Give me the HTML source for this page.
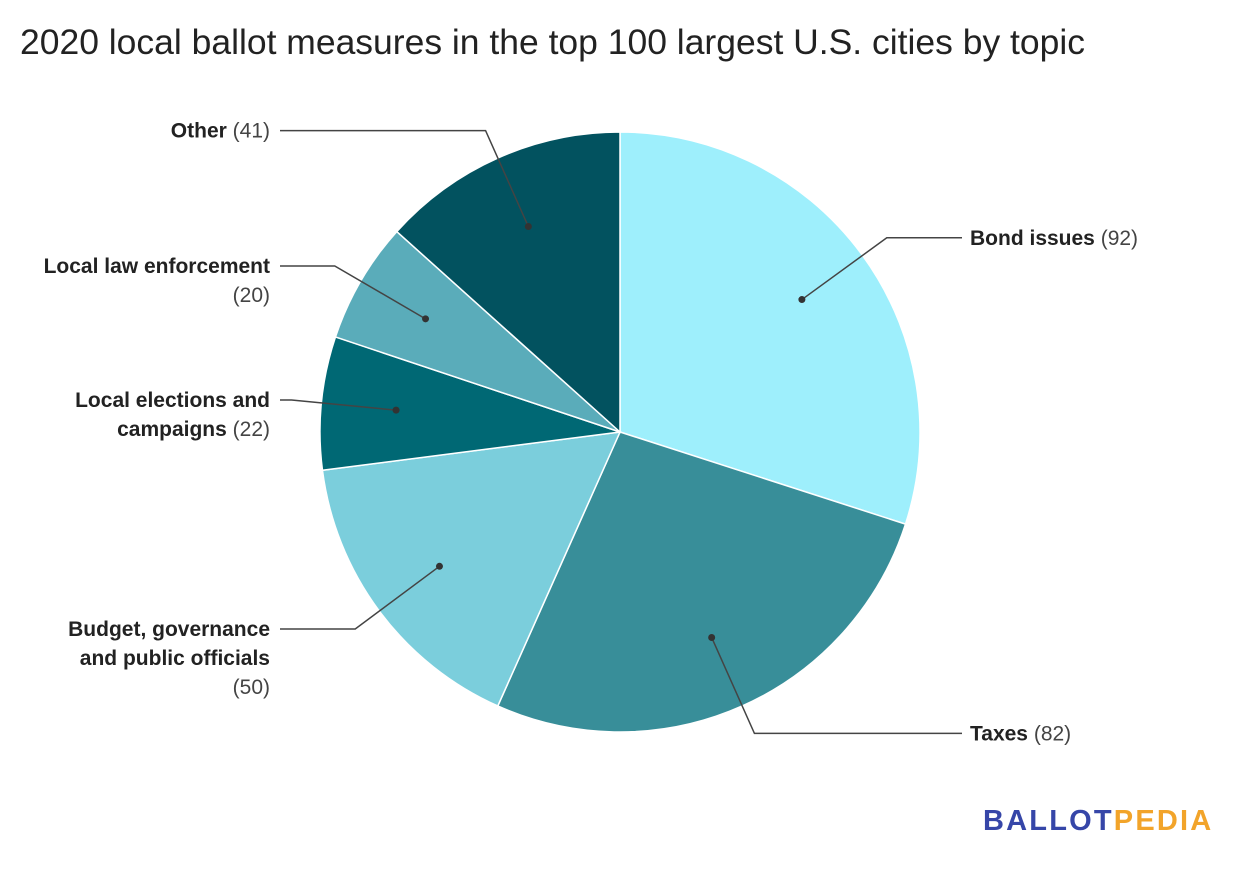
<!DOCTYPE html>
<html><head><meta charset="utf-8"><style>
body{margin:0;background:#fff;width:1240px;height:864px;overflow:hidden;font-family:"Liberation Sans",sans-serif}
svg text{font-family:"Liberation Sans",sans-serif}
</style></head><body>
<svg id="chart" width="1240" height="864">
<text x="20" y="54" font-size="35" textLength="1065" lengthAdjust="spacingAndGlyphs" fill="#222">2020 local ballot measures in the top 100 largest U.S. cities by topic</text>
<g id="slices"></g><g id="labels"></g>
<text x="983" y="830" font-size="29" font-weight="bold" letter-spacing="2.2"><tspan fill="#3646a8">BALLOT</tspan><tspan fill="#f2a42a">PEDIA</tspan></text>
</svg>
<script>
const categories=["Bond issues","Taxes","Budget, governance and public officials","Local elections and campaigns","Local law enforcement","Other"];
const values=[92,82,50,22,20,41];
const colors=["#9eeffc","#388e99","#7bcedc","#006874","#5aacba","#02525f"];
const labelLines=[["Bond issues"],["Taxes"],["Budget, governance","and public officials",""],["Local elections and","campaigns"],["Local law enforcement",""],["Other"]];
const cx=620,cy=432,r=300;
const NS="http://www.w3.org/2000/svg";
const total=values.reduce((a,b)=>a+b,0);
function pt(a,rr){return[cx+rr*Math.sin(a),cy-rr*Math.cos(a)];}
const gs=document.getElementById('slices'),gl=document.getElementById('labels');
let acc=0;
values.forEach((v,i)=>{
  const a0=acc/total*2*Math.PI;acc+=v;const a1=acc/total*2*Math.PI;
  const p0=pt(a0,r),p1=pt(a1,r);
  const p=document.createElementNS(NS,'path');
  p.setAttribute('d',`M${cx},${cy}L${p0[0]},${p0[1]}A${r},${r} 0 ${a1-a0>Math.PI?1:0} 1 ${p1[0]},${p1[1]}Z`);
  p.setAttribute('fill',colors[i]);p.setAttribute('stroke','#fff');p.setAttribute('stroke-width','1.5');
  
  
  gs.appendChild(p);
  const am=(a0+a1)/2,d=pt(am,225),e=pt(am,330);
  const right=Math.sin(am)>0,xe=right?962:280;
  const l=document.createElementNS(NS,'polyline');
  l.setAttribute('points',`${d[0]},${d[1]} ${e[0]},${e[1]} ${xe},${e[1]}`);
  l.setAttribute('fill','none');l.setAttribute('stroke','#444');l.setAttribute('stroke-width','1.5');
  
  
  gl.appendChild(l);
  const c=document.createElementNS(NS,'circle');
  c.setAttribute('cx',d[0]);c.setAttribute('cy',d[1]);c.setAttribute('r','3.5');c.setAttribute('fill','#333');
  
  
  gl.appendChild(c);
  const t=document.createElementNS(NS,'text');
  t.setAttribute('font-size','21');t.setAttribute('text-anchor',right?'start':'end');
  
  
  const lines=labelLines[i];
  lines.forEach((ln,k)=>{
    const s=document.createElementNS(NS,'tspan');
    s.setAttribute('x',right?970:270);s.setAttribute('y',e[1]+7+k*29);
    if(ln){const b=document.createElementNS(NS,'tspan');b.setAttribute('font-weight','bold');b.setAttribute('fill','#222');b.textContent=ln;s.appendChild(b);}
    if(k===lines.length-1){const n=document.createElementNS(NS,'tspan');n.setAttribute('fill','#444');n.textContent=(ln?' ':'')+'('+v+')';s.appendChild(n);}
    t.appendChild(s);
  });
  gl.appendChild(t);
});
</script>
</body></html>
